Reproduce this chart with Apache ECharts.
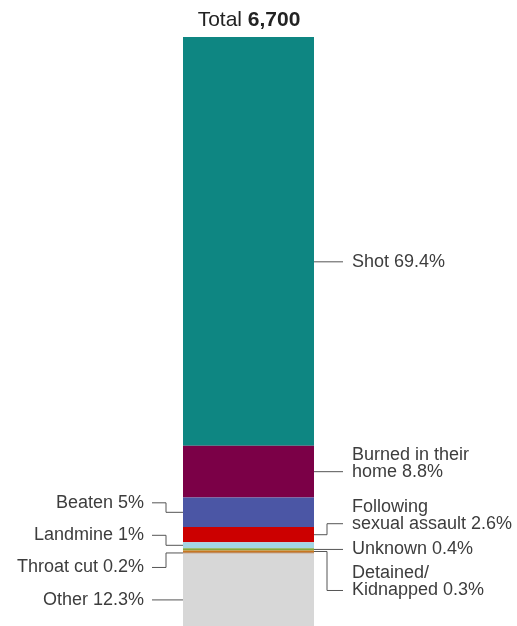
<!DOCTYPE html>
<html>
<head>
<meta charset="utf-8">
<script src="https://cdn.jsdelivr.net/npm/echarts@6/dist/echarts.min.js"></script>
<style>
html,body{margin:0;padding:0;background:#fff;}
#c{width:517px;height:626px;}
</style>
</head>
<body>
<div id="c"></div>
<script>
// ---- data (top of bar to bottom) ----
var totalDeaths = 6700;
var causes = ['Shot', 'Burned in their home', 'Beaten', 'Following sexual assault', 'Landmine', 'Unknown', 'Detained/Kidnapped', 'Throat cut', 'Other'];
var labelNames = ['Shot', 'Burned in their\nhome', 'Beaten', 'Following\nsexual assault', 'Landmine', 'Unknown', 'Detained/\nKidnapped', 'Throat cut', 'Other'];
var shares = [69.4, 8.8, 5, 2.6, 1, 0.4, 0.3, 0.2, 12.3];

// ---- styles / layout ----
var colors = ['#0e8682', '#7b0047', '#4b56a5', '#cc0000', '#a3d5e4', '#86a83c', '#c8761f', '#9a5a2a', '#d7d7d7'];
// side, anchor fraction within segment, vertical offset of label from anchor (px)
var labelLayout = [
  {side: 'right', frac: 0.55, dy: 0},
  {side: 'right', frac: 0.5, dy: 0},
  {side: 'left', frac: 0.5, dy: -9.5},
  {side: 'right', frac: 0.5, dy: -11},
  {side: 'left', frac: 0.5, dy: -10},
  {side: 'right', frac: 0.5, dy: 0},
  {side: 'right', frac: 0.5, dy: 39},
  {side: 'left', frac: 0.5, dy: 14.5},
  {side: 'left', frac: 0.64, dy: 0}
];
var FONT = '18px "Liberation Sans", Arial, Helvetica, sans-serif';
var LINE_H = 17;
var TEXT_COLOR = '#3d3d3d';
var LINE_COLOR = '#555555';

var chart = echarts.init(document.getElementById('c'), null, {renderer: 'canvas'});

var starts = [];
var acc = 0;
for (var i = 0; i < shares.length; i++) { starts.push(acc); acc += shares[i]; }

var series = causes.map(function (name, i) {
  return {
    name: name,
    type: 'bar',
    stack: 'total',
    barWidth: '100%',
    data: [shares[i]],
    itemStyle: {color: colors[i]},
    silent: true
  };
});

var labelData = causes.map(function (name, i) {
  return [0, starts[i], starts[i] + shares[i], i];
});

series.push({
  type: 'custom',
  data: labelData,
  silent: true,
  z: 10,
  renderItem: function (params, api) {
    var idx = api.value(3);
    var s = api.value(1), e = api.value(2);
    var lay = labelLayout[idx];
    var band = api.size([1, 0])[0];
    var center = api.coord([0, s]);
    var anchorVal = s + lay.frac * (e - s);
    var ay = api.coord([0, anchorVal])[1];
    var ly = ay + lay.dy;
    var cx = center[0];
    var half = band / 2;
    var pts, tx, align;
    if (lay.side === 'right') {
      var edge = cx + half;
      var elbow = edge + 13;
      var end = edge + 29;
      tx = end + 9;
      align = 'left';
      pts = (lay.dy === 0) ? [[edge, ay], [end, ay]] : [[edge, ay], [elbow, ay], [elbow, ly], [end, ly]];
    } else {
      var edgeL = cx - half;
      var elbowL = edgeL - 17;
      var endL = edgeL - 31;
      tx = endL - 8;
      align = 'right';
      pts = (lay.dy === 0) ? [[edgeL, ay], [endL, ay]] : [[edgeL, ay], [elbowL, ay], [elbowL, ly], [endL, ly]];
    }
    return {
      type: 'group',
      children: [
        {
          type: 'polyline',
          shape: {points: pts},
          style: {stroke: LINE_COLOR, lineWidth: 1, fill: null}
        },
        {
          type: 'text',
          style: {
            text: labelNames[idx] + ' ' + shares[idx] + '%',
            x: tx,
            y: ly + LINE_H / 2,
            align: align,
            verticalAlign: 'bottom',
            font: FONT,
            lineHeight: LINE_H,
            fill: TEXT_COLOR
          }
        }
      ]
    };
  }
});

var option = {
  animation: false,
  backgroundColor: '#ffffff',
  title: {
    text: '{a|Total }{b|' + totalDeaths.toLocaleString('en-US') + '}',
    left: 249,
    top: 10,
    padding: 0,
    textAlign: 'center',
    textStyle: {
      rich: {
        a: {fontSize: 21, fontFamily: '"Liberation Sans", Arial, sans-serif', color: '#222222', fontWeight: 'normal'},
        b: {fontSize: 21, fontFamily: '"Liberation Sans", Arial, sans-serif', color: '#222222', fontWeight: 'bold'}
      }
    }
  },
  grid: {left: 183, top: 37, width: 131, height: 591},
  xAxis: {type: 'category', data: ['Total'], show: false},
  yAxis: {type: 'value', min: 0, max: 100, inverse: true, show: false},
  series: series
};
chart.setOption(option);
</script>
</body>
</html>
